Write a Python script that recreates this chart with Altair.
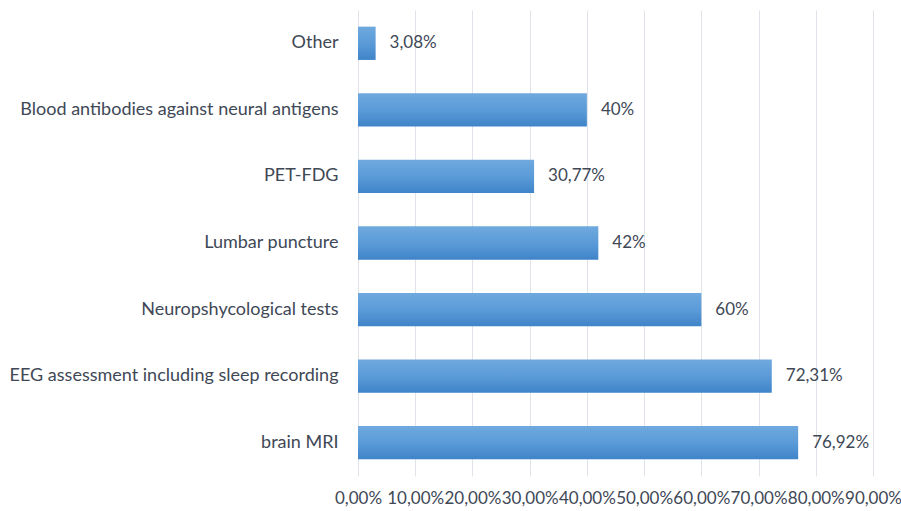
import altair as alt
import pandas as pd

# Diagnostic tools used, share of respondents (%)
categories = [
    "Other",
    "Blood antibodies against neural antigens",
    "PET-FDG",
    "Lumbar puncture",
    "Neuropshycological tests",
    "EEG assessment including sleep recording",
    "brain MRI",
]
shares = [3.08, 40, 30.77, 42, 60, 72.31, 76.92]
x_ticks = [0, 10, 20, 30, 40, 50, 60, 70, 80, 90]


def pct_label(v):
    if float(v).is_integer():
        return f"{int(v)}%"
    return f"{v:.2f}".replace(".", ",") + "%"


df = pd.DataFrame({
    "category": categories,
    "share": shares,
    "label": [pct_label(v) for v in shares],
})

FONT = "Lato"
TEXT = "#404856"

bar_fill = alt.Gradient(
    gradient="linear",
    x1=0, y1=0, x2=0, y2=1,
    stops=[
        alt.GradientStop(color="#6fa9de", offset=0),
        alt.GradientStop(color="#5b9bd8", offset=0.5),
        alt.GradientStop(color="#3f84c9", offset=1),
    ],
)

y_enc = alt.Y(
    "category:N",
    sort=categories,
    scale=alt.Scale(paddingInner=0.5, paddingOuter=0.25),
    axis=alt.Axis(
        title=None, ticks=False, domain=False, labelPadding=20,
        labelFont=FONT, labelFontSize=18, labelColor=TEXT, labelLimit=400,
    ),
)

x_enc = alt.X(
    "share:Q",
    scale=alt.Scale(domain=[0, 90], nice=False),
    axis=alt.Axis(
        title=None, values=x_ticks, ticks=False, domain=False,
        grid=True, gridColor="#e0e4ea", gridWidth=1,
        labelExpr="replace(format(datum.value, '.2f'), '.', ',') + '%'",
        labelFont=FONT, labelFontSize=17, labelColor=TEXT, labelPadding=14,
        labelOverlap=False, labelFlush=False,
    ),
)

bars = alt.Chart(df).mark_bar(color=bar_fill).encode(x=x_enc, y=y_enc)

labels = alt.Chart(df).mark_text(
    align="left", baseline="middle", dx=14,
    font=FONT, fontSize=17, color=TEXT,
).encode(x="share:Q", y=alt.Y("category:N", sort=categories), text="label:N")

chart = (
    (bars + labels)
    .properties(
        width=515, height=466,
        autosize=alt.AutoSizeParams(type="none"),
        padding={"left": 358, "top": 10, "right": 28, "bottom": 35},
        background="white",
    )
    .configure_view(stroke=None)
)

chart.save("out.html", embed_options={"renderer": "svg", "actions": False})
